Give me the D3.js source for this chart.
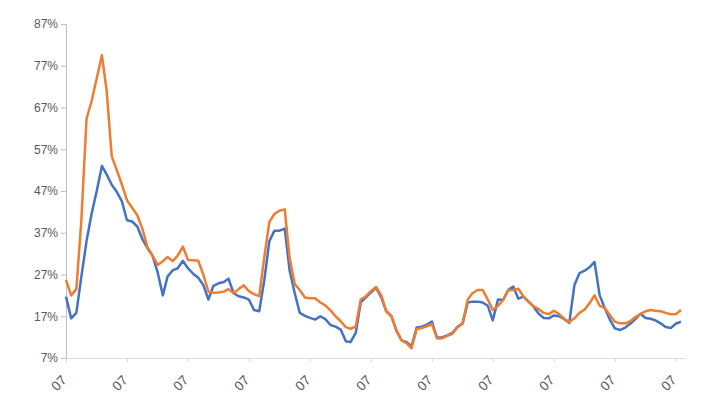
<!DOCTYPE html>
<html lang="en">
<head>
<meta charset="UTF-8">
<title>chart</title>
<script src="https://d3js.org/d3.v7.min.js"></script>
<style>
body {margin: 0; background: #fff;}
svg {display: block;}
.tick-label {font-family: "Liberation Sans", Arial, sans-serif; font-size: 12px; fill: #595959;}
.x-label {font-size: 13.5px;}
</style>
</head>
<body>
<svg width="720" height="394"></svg>
<script>
// monthly readings, starting July 2008
var startMonth = new Date(2008, 6, 1);

var blueSeries = [21.7, 16.5, 17.8, 26.5, 35, 41.5, 47, 53, 51, 48.5,
    46.8, 44.5, 40, 39.7, 38.5, 35.5, 33.3, 31.5, 27.5, 22,
    26.5, 28, 28.5, 30.3, 28.5, 27.2, 26.2, 24.5, 21, 24.3,
    24.9, 25.2, 26, 22.5, 21.8, 21.5, 21, 18.5, 18.2, 25.5,
    35, 37.5, 37.5, 38, 28, 22.5, 17.8, 17.1, 16.6, 16.2,
    17, 16.3, 14.9, 14.5, 13.8, 11, 10.8, 13, 20.3, 21.5,
    22.7, 23.8, 21.5, 18.2, 17, 13.5, 11.2, 10.8, 9.8, 14.3,
    14.5, 15, 15.7, 11.9, 12, 12.4, 13, 14.5, 15.3, 20.3,
    20.5, 20.5, 20.3, 19.5, 16, 21, 20.9, 23.3, 24.1, 21.2,
    21.7, 20.5, 19.3, 17.6, 16.6, 16.5, 17.2, 17, 16.3, 15.4,
    24.5, 27.3, 27.9, 28.8, 30, 22, 19, 16.2, 14.1, 13.7,
    14.3, 15.2, 16.3, 17.6, 16.6, 16.4, 16, 15.3, 14.4, 14.2,
    15.2, 15.7];

var orangeSeries = [25.7, 22, 23.5, 40, 64.3, 68.5, 74, 79.5, 71.2, 55.3,
    52, 48.5, 44.8, 43, 41.2, 38, 33.5, 31.6, 29.3, 30.2,
    31.2, 30.2, 31.5, 33.7, 30.5, 30.4, 30.3, 27, 22.9, 22.6,
    22.7, 22.9, 23.5, 22.5, 23.5, 24.4, 23, 22.3, 21.8, 31,
    39.6, 41.5, 42.3, 42.6, 31, 24.7, 23.3, 21.5, 21.3, 21.3,
    20.3, 19.6, 18.4, 17, 15.8, 14.4, 14, 14.5, 21, 21.8,
    23, 24, 22, 18.2, 17, 13.7, 11.2, 10.5, 9.3, 13.9,
    14.2, 14.6, 15.1, 11.7, 11.7, 12.3, 12.8, 14.3, 15.2, 21,
    22.5, 23.3, 23.3, 21, 18.5, 19.5, 20.9, 23.2, 23.3, 23.6,
    21.7, 20.4, 19.4, 18.7, 17.8, 17.5, 18.3, 17.5, 16.4, 15.6,
    16.5, 17.8, 18.6, 20.2, 22, 19.5, 19, 17.3, 15.7, 15.3,
    15.3, 15.8, 16.8, 17.5, 18.2, 18.5, 18.3, 18.2, 17.8, 17.5,
    17.5, 18.5];

var yTicks = [7, 17, 27, 37, 47, 57, 67, 77, 87];
var xTickYears = [2008, 2009, 2010, 2011, 2012, 2013, 2014, 2015, 2016, 2017, 2018];

var svg = d3.select("svg");

var xs = d3.scaleTime()
    .domain([startMonth, new Date(2018, 7, 25)])
    .range([66, 685]);
var ys = d3.scaleLinear().domain([7, 87]).range([358, 24]);

function dateAt(i) { return d3.timeMonth.offset(startMonth, i); }

// y axis
var yAxis = svg.append("g").attr("transform", "translate(66,0)")
    .call(d3.axisLeft(ys).tickValues(yTicks).tickSize(5).tickFormat(function(d){ return d + "%"; }));
yAxis.select(".domain").attr("stroke", "#bfbfbf");
yAxis.selectAll(".tick line").attr("stroke", "#bfbfbf");
yAxis.selectAll(".tick text").attr("class", "tick-label").attr("x", -8).attr("fill", null);

// x axis
var xTicks = xTickYears.map(function(y){ return new Date(y, 6, 1); });
var xAxis = svg.append("g").attr("transform", "translate(0,358)")
    .call(d3.axisBottom(xs).tickValues(xTicks).tickSize(4).tickSizeOuter(0).tickFormat(d3.timeFormat("%m")));
xAxis.select(".domain").attr("stroke", "#d9d9d9");
xAxis.selectAll(".tick line").attr("stroke", "#d9d9d9");
xAxis.selectAll(".tick text")
    .attr("class", "tick-label x-label")
    .attr("fill", null)
    .attr("text-anchor", "end")
    .attr("dy", null)
    .attr("y", 0)
    .attr("transform", "translate(1,23) rotate(-45)");

var line = d3.line()
    .x(function(d, i){ return xs(dateAt(i)); })
    .y(function(d){ return ys(d); });

svg.append("path").datum(blueSeries)
    .attr("fill", "none").attr("stroke", "#4472c4").attr("stroke-width", 2.5)
    .attr("stroke-linejoin", "round").attr("d", line);

svg.append("path").datum(orangeSeries)
    .attr("fill", "none").attr("stroke", "#ed7d31").attr("stroke-width", 2.5)
    .attr("stroke-linejoin", "round").attr("d", line);
</script>
</body>
</html>
